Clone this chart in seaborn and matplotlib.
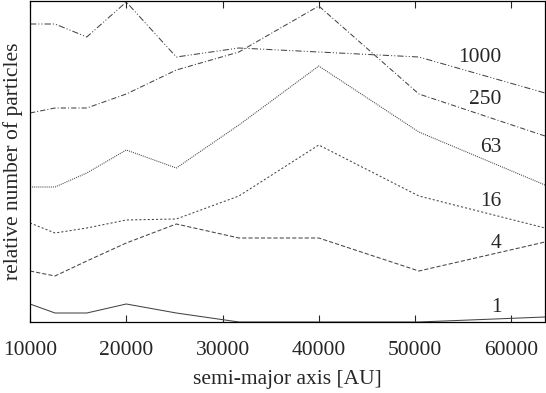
import matplotlib
matplotlib.use("Agg")
import matplotlib.pyplot as plt
import seaborn as sns
import pandas as pd

# semi-major axis sample points [AU]
semi_major = [10000, 12600, 15900, 20000, 25200, 31700, 40000, 50400, 63500]

# relative number of particles (arbitrary units) per series
series_names = ["1", "4", "16", "63", "250", "1000"]
n1 = [18, 9, 9, 18, 9, 0, 0, 0, 5]
n4 = [51, 46, 61, 79, 98, 84, 84, 51, 80]
n16 = [99, 89, 94, 102, 103, 126, 177, 126, 94]
n63 = [135, 135, 149, 172, 154, 197, 256, 190, 137]
n250 = [209, 214, 214, 228, 252, 270, 316, 228, 186]
n1000 = [298, 298, 285, 320, 265, 274, 270, 265, 229]
values = [n1, n4, n16, n63, n250, n1000]

rows = []
for name, vals in zip(series_names, values):
    for x, v in zip(semi_major, vals):
        rows.append({"a": x, "n": v, "series": name})
df = pd.DataFrame(rows)

sns.set_style("ticks")
plt.rcParams["font.family"] = ["Liberation Serif", "DejaVu Serif"]

FS = 15.5
fig = plt.figure(figsize=(5.46, 3.93), dpi=100)
ax = fig.add_axes([30 / 546, 1 - 322 / 393, 515 / 546, 321 / 393])

dashes = {
    "1": "",
    "4": (4, 2),
    "16": (2, 2),
    "63": (1, 1),
    "250": (5, 2, 1, 2),
    "1000": (6, 2, 1, 2, 1, 2),
}
palette = {s: "#444444" for s in series_names}
sns.lineplot(data=df, x="a", y="n", hue="series", style="series",
             dashes=dashes, palette=palette, linewidth=0.75, ax=ax,
             legend=False)

# curve labels
label_y = [14, 79, 121, 174, 223, 265]
for name, ly in zip(series_names, label_y):
    ax.text(59000, ly, name, ha="right", va="center", fontsize=FS)

ax.set_xlim(10000, 63500)
ax.set_ylim(0, 321)
ax.set_xticks([10000, 20000, 30000, 40000, 50000, 60000])
ax.set_yticks([])
ax.tick_params(axis="x", direction="in", top=True, bottom=True, length=5,
               width=0.8, labelsize=FS, pad=14)
for sp in ax.spines.values():
    sp.set_visible(True)
    sp.set_linewidth(0.9)
    sp.set_color("black")
ax.set_xlabel("semi-major axis [AU]", fontsize=FS, labelpad=7)
ax.set_ylabel("relative number of particles", fontsize=FS, labelpad=5)

fig.savefig("out.png", dpi=100)
